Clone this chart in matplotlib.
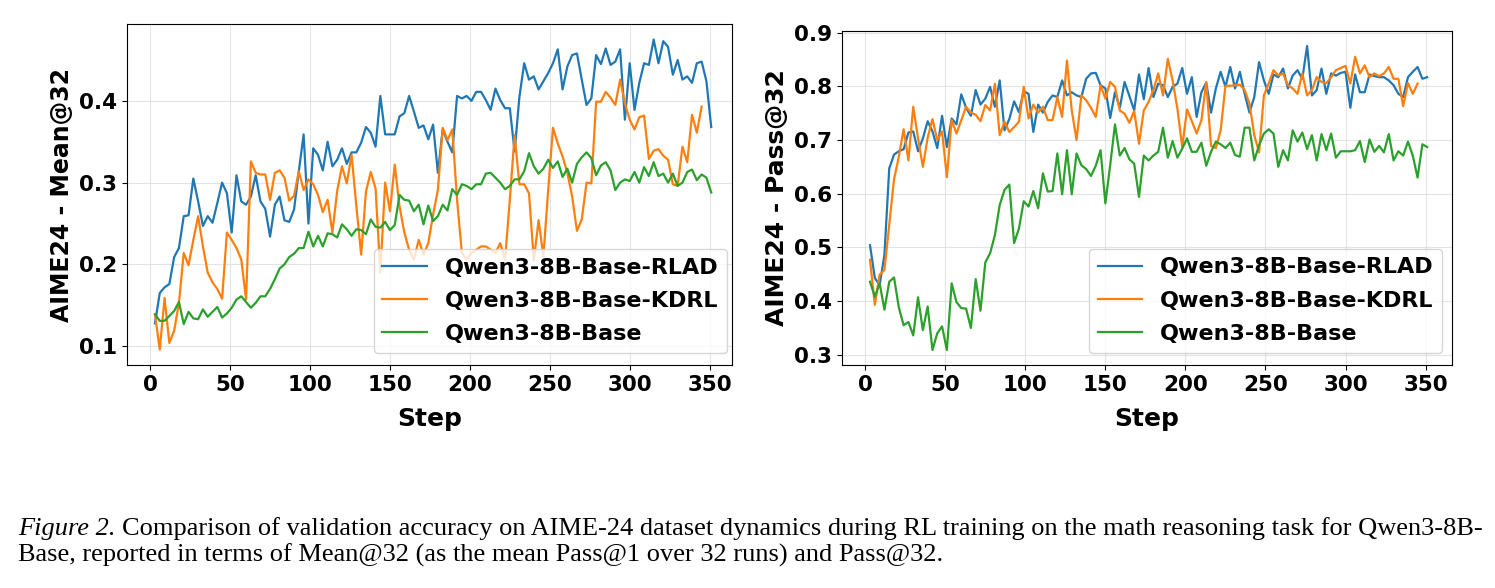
import matplotlib
matplotlib.use('Agg')
import matplotlib.pyplot as plt
import numpy as np

# --- data ---
steps = np.arange(3, 352, 3)
steps_kdrl = np.arange(3, 346, 3)

mean_rlad = [
    0.128, 0.165, 0.172, 0.176, 0.209, 0.220, 0.259, 0.260, 0.305, 0.277,
    0.247, 0.259, 0.251, 0.275, 0.300, 0.287, 0.239, 0.309, 0.277, 0.273,
    0.283, 0.309, 0.277, 0.268, 0.234, 0.273, 0.283, 0.254, 0.252, 0.267,
    0.314, 0.359, 0.250, 0.342, 0.334, 0.315, 0.350, 0.320, 0.328,
    0.342, 0.323, 0.337, 0.337, 0.349, 0.368, 0.361, 0.344, 0.406, 0.359,
    0.359, 0.359, 0.381, 0.385, 0.406, 0.387, 0.367, 0.370, 0.353, 0.371,
    0.312, 0.365, 0.350, 0.337, 0.406, 0.403, 0.406, 0.400, 0.411, 0.411,
    0.401, 0.389, 0.415, 0.401, 0.391, 0.391, 0.338, 0.405, 0.446,
    0.426, 0.430, 0.414, 0.424, 0.434, 0.446, 0.463, 0.414, 0.442, 0.456,
    0.458, 0.426, 0.395, 0.403, 0.456, 0.445, 0.464, 0.444, 0.448, 0.463,
    0.377, 0.446, 0.389, 0.422, 0.446, 0.444, 0.475, 0.446, 0.473, 0.466,
    0.432, 0.450, 0.426, 0.430, 0.422, 0.446, 0.448, 0.424, 0.368,
]
mean_kdrl = [
    0.139, 0.096, 0.159, 0.104, 0.119, 0.153, 0.214, 0.199, 0.230, 0.259,
    0.222, 0.190, 0.178, 0.170, 0.158, 0.239, 0.230, 0.220, 0.206, 0.157,
    0.326, 0.312, 0.310, 0.310, 0.279, 0.312, 0.315, 0.306, 0.278, 0.284,
    0.314, 0.291, 0.304, 0.298, 0.285, 0.264, 0.279, 0.239, 0.290,
    0.320, 0.299, 0.334, 0.271, 0.212, 0.289, 0.313, 0.293, 0.190, 0.300,
    0.265, 0.322, 0.271, 0.239, 0.218, 0.206, 0.230, 0.212, 0.226, 0.261,
    0.291, 0.367, 0.352, 0.365, 0.279, 0.214, 0.206, 0.214, 0.218, 0.222,
    0.222, 0.218, 0.214, 0.226, 0.206, 0.279, 0.358, 0.298, 0.298,
    0.287, 0.205, 0.254, 0.210, 0.291, 0.367, 0.348, 0.332, 0.312, 0.283,
    0.241, 0.255, 0.300, 0.299, 0.399, 0.399, 0.411, 0.404, 0.395, 0.426,
    0.397, 0.377, 0.365, 0.380, 0.382, 0.329, 0.339, 0.341, 0.333, 0.328,
    0.298, 0.296, 0.344, 0.325, 0.383, 0.361, 0.393,
]
mean_base = [
    0.139, 0.131, 0.131, 0.137, 0.143, 0.154, 0.127, 0.142, 0.134, 0.133,
    0.145, 0.136, 0.142, 0.148, 0.135, 0.140, 0.147, 0.157, 0.161, 0.154,
    0.147, 0.153, 0.161, 0.161, 0.170, 0.182, 0.195, 0.200, 0.209, 0.213,
    0.220, 0.220, 0.240, 0.222, 0.235, 0.222, 0.238, 0.237, 0.233,
    0.249, 0.243, 0.235, 0.243, 0.242, 0.237, 0.255, 0.246, 0.245, 0.252,
    0.242, 0.248, 0.285, 0.279, 0.278, 0.265, 0.273, 0.249, 0.272, 0.253,
    0.259, 0.273, 0.266, 0.292, 0.285, 0.298, 0.296, 0.292, 0.298, 0.298,
    0.311, 0.312, 0.306, 0.300, 0.292, 0.296, 0.304, 0.304, 0.314,
    0.336, 0.320, 0.311, 0.317, 0.328, 0.318, 0.326, 0.307, 0.317, 0.300,
    0.323, 0.331, 0.337, 0.330, 0.309, 0.321, 0.325, 0.315, 0.291, 0.300,
    0.304, 0.302, 0.313, 0.300, 0.319, 0.308, 0.325, 0.308, 0.311, 0.300,
    0.311, 0.296, 0.300, 0.313, 0.316, 0.303, 0.310, 0.306, 0.288,
]

pass_rlad = [
    0.504, 0.443, 0.430, 0.486, 0.647, 0.673, 0.679, 0.683, 0.714, 0.716,
    0.679, 0.703, 0.735, 0.716, 0.685, 0.745, 0.687, 0.740, 0.729, 0.785,
    0.760, 0.745, 0.793, 0.766, 0.777, 0.799, 0.762, 0.811, 0.718, 0.739,
    0.772, 0.752, 0.791, 0.786, 0.715, 0.766, 0.751, 0.771, 0.783,
    0.780, 0.811, 0.783, 0.789, 0.783, 0.780, 0.814, 0.824, 0.825, 0.802,
    0.796, 0.741, 0.789, 0.760, 0.808, 0.782, 0.755, 0.822, 0.776, 0.834,
    0.780, 0.805, 0.802, 0.780, 0.799, 0.805, 0.834, 0.786, 0.817, 0.743,
    0.789, 0.807, 0.751, 0.796, 0.827, 0.799, 0.836, 0.796, 0.827,
    0.786, 0.751, 0.780, 0.845, 0.811, 0.786, 0.822, 0.817, 0.833, 0.796,
    0.820, 0.830, 0.814, 0.875, 0.783, 0.793, 0.833, 0.786, 0.824, 0.820,
    0.825, 0.827, 0.760, 0.822, 0.789, 0.789, 0.822, 0.819, 0.817, 0.817,
    0.811, 0.802, 0.786, 0.780, 0.817, 0.827, 0.836, 0.814, 0.817,
]
pass_kdrl = [
    0.477, 0.393, 0.449, 0.458, 0.542, 0.627, 0.669, 0.720, 0.662, 0.762,
    0.703, 0.650, 0.704, 0.739, 0.700, 0.716, 0.631, 0.737, 0.712, 0.737,
    0.762, 0.751, 0.747, 0.735, 0.765, 0.755, 0.805, 0.709, 0.734, 0.715,
    0.724, 0.734, 0.799, 0.740, 0.766, 0.751, 0.762, 0.737, 0.737,
    0.780, 0.743, 0.848, 0.755, 0.700, 0.783, 0.774, 0.760, 0.743, 0.802,
    0.777, 0.808, 0.799, 0.755, 0.749, 0.732, 0.754, 0.693, 0.755, 0.771,
    0.793, 0.824, 0.783, 0.851, 0.811, 0.758, 0.687, 0.757, 0.735, 0.712,
    0.737, 0.808, 0.689, 0.685, 0.718, 0.801, 0.801, 0.802, 0.803,
    0.793, 0.768, 0.709, 0.677, 0.783, 0.805, 0.830, 0.820, 0.824, 0.802,
    0.796, 0.786, 0.824, 0.783, 0.793, 0.817, 0.808, 0.806, 0.817, 0.830,
    0.834, 0.838, 0.805, 0.855, 0.824, 0.839, 0.817, 0.824, 0.819, 0.824,
    0.836, 0.814, 0.814, 0.763, 0.806, 0.786, 0.805,
]
pass_base = [
    0.436, 0.408, 0.433, 0.384, 0.436, 0.444, 0.388, 0.355, 0.361, 0.336,
    0.407, 0.346, 0.390, 0.309, 0.340, 0.353, 0.309, 0.433, 0.398, 0.387,
    0.386, 0.350, 0.441, 0.382, 0.472, 0.489, 0.523, 0.579, 0.607, 0.617,
    0.508, 0.535, 0.586, 0.576, 0.605, 0.573, 0.638, 0.604, 0.605,
    0.675, 0.599, 0.681, 0.599, 0.675, 0.653, 0.646, 0.633, 0.652, 0.681,
    0.582, 0.653, 0.729, 0.671, 0.685, 0.664, 0.656, 0.594, 0.671, 0.662,
    0.671, 0.678, 0.723, 0.667, 0.698, 0.667, 0.684, 0.703, 0.678, 0.678,
    0.695, 0.652, 0.678, 0.697, 0.692, 0.685, 0.695, 0.672, 0.669,
    0.723, 0.723, 0.662, 0.690, 0.712, 0.720, 0.712, 0.650, 0.681, 0.662,
    0.718, 0.697, 0.714, 0.683, 0.709, 0.662, 0.711, 0.681, 0.712, 0.667,
    0.679, 0.679, 0.679, 0.681, 0.698, 0.659, 0.701, 0.678, 0.689, 0.677,
    0.711, 0.662, 0.679, 0.671, 0.697, 0.671, 0.630, 0.692, 0.687,
]

labels = ['Qwen3-8B-Base-RLAD', 'Qwen3-8B-Base-KDRL', 'Qwen3-8B-Base']
colors = ['#1f77b4', '#ff7f0e', '#2ca02c']

W, H = 1495, 588
fig = plt.figure(figsize=(W / 100, H / 100), dpi=100)


def px_axes(x0, y0, x1, y1):
    return fig.add_axes([x0 / W, 1 - y1 / H, (x1 - x0) / W, (y1 - y0) / H])


ax1 = px_axes(127, 24, 732, 365)
ax2 = px_axes(842, 31, 1452, 365)

# axes, series, y label, label size, y ticks, x max, legend anchor
panels = [
    (ax1, [mean_rlad, mean_kdrl, mean_base], 'AIME24 - Mean@32', 17,
     [0.1, 0.2, 0.3, 0.4], 364, (0.992, 0.035)),
    (ax2, [pass_rlad, pass_kdrl, pass_base], 'AIME24 - Pass@32', 18,
     [0.3, 0.4, 0.5, 0.6, 0.7, 0.8, 0.9], 366.5, (0.984, 0.036)),
]

for ax, series, ylabel, ysize, yticks, xmax, anchor in panels:
    xs = [steps, steps_kdrl, steps]
    for x, y, lab, c in zip(xs, series, labels, colors):
        ax.plot(x, y, color=c, linewidth=1.6, label=lab)
    ax.set_xticks([0, 50, 100, 150, 200, 250, 300, 350])
    ax.set_yticks(yticks)
    ax.set_xlim(-14.5, xmax)
    ax.grid(True, color='#d9d9d9', linewidth=0.8, alpha=0.7)
    ax.set_xlabel('Step', fontsize=18, fontweight='bold', labelpad=9)
    ax.set_ylabel(ylabel, fontsize=ysize, fontweight='bold')
    ax.tick_params(axis='both', labelsize=15.5)
    for t in ax.get_xticklabels() + ax.get_yticklabels():
        t.set_fontweight('bold')
    ax.legend(loc='lower right', bbox_to_anchor=anchor, borderaxespad=0, labelspacing=0.6,
              prop={'size': 16, 'weight': 'bold'}, framealpha=0.8)

ax1.set_ylim(0.077, 0.494)
ax2.set_ylim(0.281, 0.903)

# caption
cap_font = 'Liberation Serif'
cap_size = 19
fig.canvas.draw()
t1 = fig.text(18 / W, 1 - 535 / H, 'Figure 2.', fontsize=cap_size, family=cap_font,
              style='italic', va='baseline')
bb = t1.get_window_extent(renderer=fig.canvas.get_renderer())
fig.text(bb.x1 / W + 6 / W, 1 - 535 / H,
         'Comparison of validation accuracy on AIME-24 dataset dynamics during RL training '
         'on the math reasoning task for Qwen3-8B-',
         fontsize=cap_size, family=cap_font, va='baseline')
fig.text(18 / W, 1 - 562 / H,
         'Base, reported in terms of Mean@32 (as the mean Pass@1 over 32 runs) and Pass@32.',
         fontsize=cap_size, family=cap_font, va='baseline')

fig.savefig('out.png', dpi=100)
